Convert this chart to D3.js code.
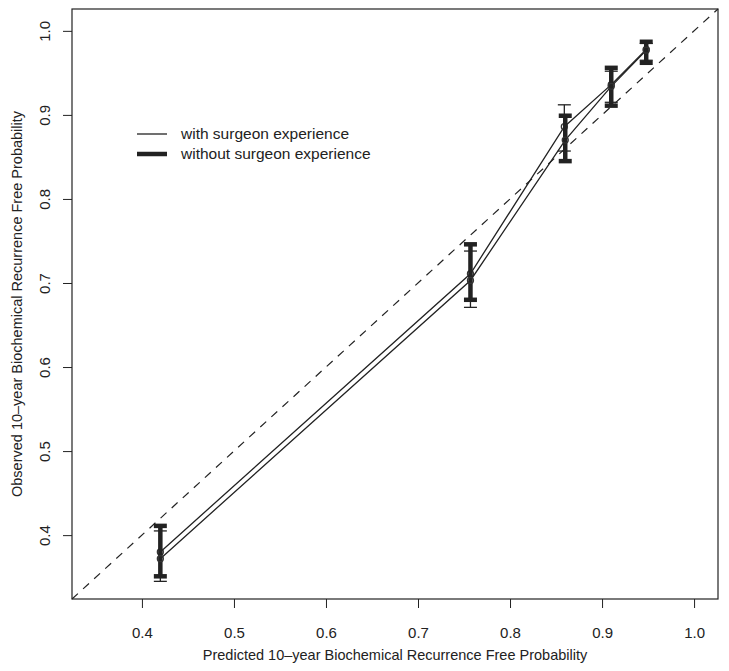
<!DOCTYPE html>
<meta charset="utf-8" />
<html>
<head>
<title>calibration</title>
<script src="https://cdn.jsdelivr.net/npm/d3@7"></script>
<style>
body { margin: 0; background: #fff; }
text { font-family: "Liberation Sans", Arial, sans-serif; fill: #222; }
</style>
</head>
<body>
<div id="viz"></div>
<script>

// values
var predWith = [0.42, 0.757, 0.859, 0.91, 0.948];
var obsWith = [0.38, 0.711, 0.886, 0.936, 0.978];
var lowWith = [0.345, 0.671, 0.857, 0.915, 0.965];
var highWith = [0.405, 0.738, 0.912, 0.952, 0.985];

var predWithout = [0.42, 0.757, 0.86, 0.91, 0.948];
var obsWithout = [0.372, 0.703, 0.870, 0.934, 0.977];
var lowWithout = [0.351, 0.680, 0.845, 0.911, 0.962];
var highWithout = [0.411, 0.746, 0.899, 0.956, 0.987];

var ticks = [0.4, 0.5, 0.6, 0.7, 0.8, 0.9, 1.0];
var legendLabels = ["with surgeon experience", "without surgeon experience"];

var width = 729, height = 671;
var mLeft = 72, mRight = 718, mTop = 9, mBottom = 599;
var lim = [0.324, 1.026];

var svg = d3.select("#viz").append("svg")
    .attr("width", width)
    .attr("height", height);

var x = d3.scaleLinear().domain(lim).range([mLeft, mRight]);
var y = d3.scaleLinear().domain(lim).range([mBottom, mTop]);

// diagonal reference
svg.append("line")
  .attr("x1", x(lim[0])).attr("y1", y(lim[0]))
  .attr("x2", x(lim[1])).attr("y2", y(lim[1]))
  .attr("stroke", "#222").attr("stroke-width", 1.2)
  .attr("stroke-dasharray", "8,7");

// axes
var xAxis = svg.append("g")
  .attr("transform", "translate(0," + mBottom + ")")
  .call(d3.axisBottom(x).tickValues(ticks).tickSize(9).tickFormat(d3.format(".1f")));
xAxis.select(".domain").remove();
xAxis.selectAll("text").attr("dy", 0).attr("y", 39).style("font-size", "15px");

var yAxis = svg.append("g")
  .attr("transform", "translate(" + mLeft + ",0)")
  .call(d3.axisLeft(y).tickValues(ticks).tickSize(9).tickFormat(d3.format(".1f")));
yAxis.select(".domain").remove();
yAxis.selectAll("text")
  .attr("x", 0).attr("dy", 0).attr("y", 0)
  .attr("text-anchor", "middle")
  .attr("transform", "translate(-22,0) rotate(-90)")
  .style("font-size", "15px");
svg.selectAll(".tick line").attr("stroke", "#222");

// box
svg.append("rect")
  .attr("x", mLeft).attr("y", mTop)
  .attr("width", mRight - mLeft).attr("height", mBottom - mTop)
  .attr("fill", "none").attr("stroke", "#222").attr("stroke-width", 1.2);

// axis titles
svg.append("text")
  .attr("x", (mLeft + mRight) / 2).attr("y", 660)
  .attr("text-anchor", "middle").style("font-size", "14.5px")
  .text("Predicted 10\u2013year Biochemical Recurrence Free Probability");

svg.append("text")
  .attr("transform", "translate(22," + (mTop + mBottom) / 2 + ") rotate(-90)")
  .attr("text-anchor", "middle").style("font-size", "14.5px")
  .text("Observed 10\u2013year Biochemical Recurrence Free Probability");

function drawSeries(pred, obs, low, high, lw) {
  var pts = pred.map(function(p, i) {
    return { p: p, o: obs[i], lo: low[i], hi: high[i] };
  });
  var line = d3.line()
    .x(function(d) { return x(d.p); })
    .y(function(d) { return y(d.o); });
  svg.append("path")
    .datum(pts)
    .attr("d", line)
    .attr("fill", "none").attr("stroke", "#222").attr("stroke-width", 1.3);

  var g = svg.append("g").attr("stroke", "#222").attr("stroke-width", lw);
  g.selectAll("line.bar").data(pts).enter().append("line")
    .attr("class", "bar")
    .attr("x1", function(d) { return x(d.p); }).attr("x2", function(d) { return x(d.p); })
    .attr("y1", function(d) { return y(d.lo); }).attr("y2", function(d) { return y(d.hi); });
  ["lo", "hi"].forEach(function(k) {
    g.selectAll("line.cap" + k).data(pts).enter().append("line")
      .attr("class", "cap" + k)
      .attr("x1", function(d) { return x(d.p) - 6.5; }).attr("x2", function(d) { return x(d.p) + 6.5; })
      .attr("y1", function(d) { return y(d[k]); }).attr("y2", function(d) { return y(d[k]); });
  });
  svg.selectAll(null).data(pts).enter().append("circle")
    .attr("cx", function(d) { return x(d.p); })
    .attr("cy", function(d) { return y(d.o); })
    .attr("r", 3)
    .attr("fill", "none").attr("stroke", "#333").attr("stroke-width", 1.3);
}

drawSeries(predWith, obsWith, lowWith, highWith, 1.3);
drawSeries(predWithout, obsWithout, lowWithout, highWithout, 4.5);

// legend
var leg = svg.append("g");
legendLabels.forEach(function(lab, i) {
  var yy = 134 + i * 20;
  leg.append("line")
    .attr("x1", 137).attr("x2", 167).attr("y1", yy).attr("y2", yy)
    .attr("stroke", "#222").attr("stroke-width", i == 0 ? 1.3 : 4.5);
  leg.append("text")
    .attr("x", 181).attr("y", yy + 5)
    .style("font-size", "15.5px")
    .text(lab);
});

</script>
</body>
</html>
